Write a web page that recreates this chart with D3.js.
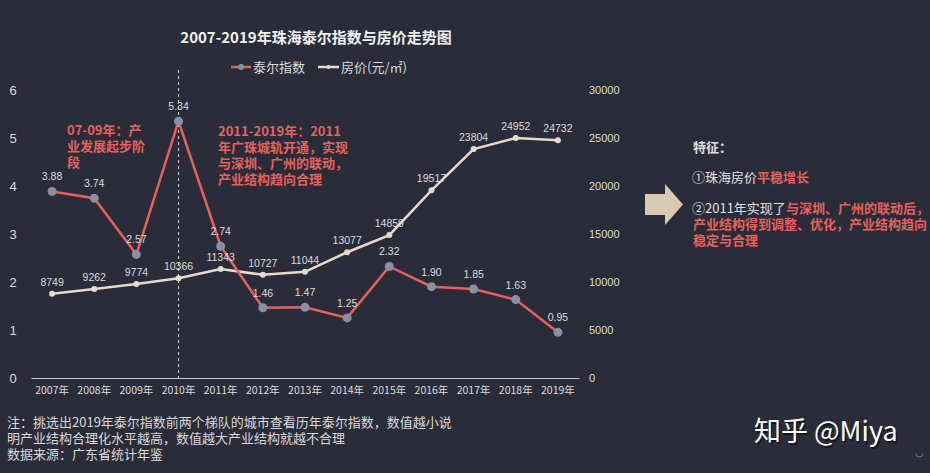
<!DOCTYPE html>
<html><head><meta charset="utf-8">
<script src="https://cdn.jsdelivr.net/npm/d3@7/dist/d3.min.js"></script>
<style>
html,body{margin:0;padding:0;background:#2a2c39;}
svg{display:block;}
text{font-family:"Liberation Sans","Noto Sans CJK SC",sans-serif;}
.cjk{font-family:"Noto Sans CJK SC","Liberation Sans",sans-serif;}
</style></head>
<body>
<script>
const years = ["2007年","2008年","2009年","2010年","2011年","2012年","2013年","2014年","2015年","2016年","2017年","2018年","2019年"];
const theil = [3.88,3.74,2.57,5.34,2.74,1.46,1.47,1.25,2.32,1.90,1.85,1.63,0.95];
const price = [8749,9262,9774,10366,11343,10727,11044,13077,14859,19517,23804,24952,24732];
const leftTicks = [0,1,2,3,4,5,6];
const rightTicks = [0,5000,10000,15000,20000,25000,30000];

const W=930,H=473;
const svg=d3.select("body").append("svg").attr("width",W).attr("height",H);
svg.append("rect").attr("width",W).attr("height",H).attr("fill","#2a2c39");

const x=d3.scaleBand().domain(years).range([31,579]);
const cx=d=>x(d)+x.bandwidth()/2;
const yL=d3.scaleLinear().domain([0,6]).range([378,89.5]);
const yR=d3.scaleLinear().domain([0,30000]).range([378,89.5]);

const RED="#e5625c", BEIGE="#e6dccb", TXT="#dcdcdc";

// title
svg.append("text").attr("class","cjk").attr("x",316).attr("y",43).attr("text-anchor","middle")
  .attr("fill","#f0f0f0").attr("font-size",15).attr("font-weight","bold")
  .text("2007-2019年珠海泰尔指数与房价走势图");

// legend
const lg=svg.append("g");
lg.append("line").attr("x1",231).attr("x2",251).attr("y1",67).attr("y2",67).attr("stroke",RED).attr("stroke-width",2.5);
lg.append("circle").attr("cx",241).attr("cy",67).attr("r",3).attr("fill","#8a8fa6");
lg.append("text").attr("class","cjk").attr("x",253).attr("y",72).attr("fill",TXT).attr("font-size",13).text("泰尔指数");
lg.append("line").attr("x1",318).attr("x2",339).attr("y1",67).attr("y2",67).attr("stroke",BEIGE).attr("stroke-width",2.5);
lg.append("circle").attr("cx",328.5).attr("cy",67).attr("r",2).attr("fill",BEIGE);
lg.append("text").attr("class","cjk").attr("x",341).attr("y",72).attr("fill",TXT).attr("font-size",13).text("房价(元/㎡)");

// axes
const axL=svg.append("g");
axL.selectAll("text").data(leftTicks).join("text").attr("x",13).attr("y",d=>yL(d)+5)
  .attr("text-anchor","middle").attr("fill",TXT).attr("font-size",13).text(d=>d);
const axR=svg.append("g");
axR.selectAll("text").data(rightTicks).join("text").attr("x",589).attr("y",d=>yR(d)+4)
  .attr("fill",TXT).attr("font-size",11).text(d=>d);

const xAxis=svg.append("g").attr("transform","translate(0,378)")
  .call(d3.axisBottom(x).tickSize(0).tickPadding(9));
xAxis.select(".domain").attr("stroke","#c8c8cc").attr("stroke-width",1);
xAxis.selectAll("text").attr("class","cjk").attr("fill",TXT).attr("font-size",10.5);

// dashed line at 2010
svg.append("line").attr("x1",cx("2010年")).attr("x2",cx("2010年")).attr("y1",70).attr("y2",378)
  .attr("stroke","#d8d8d8").attr("stroke-width",1).attr("stroke-dasharray","3,3");

// price line
svg.append("path").datum(price).attr("fill","none").attr("stroke",BEIGE).attr("stroke-width",2.5)
  .attr("d",d3.line().x((d,i)=>cx(years[i])).y(d=>yR(d)));
svg.append("g").selectAll("circle").data(price).join("circle")
  .attr("cx",(d,i)=>cx(years[i])).attr("cy",d=>yR(d)).attr("r",3).attr("fill",BEIGE);

// theil line
svg.append("path").datum(theil).attr("fill","none").attr("stroke",RED).attr("stroke-width",2.5)
  .attr("d",d3.line().x((d,i)=>cx(years[i])).y(d=>yL(d)));
svg.append("g").selectAll("circle").data(theil).join("circle")
  .attr("cx",(d,i)=>cx(years[i])).attr("cy",d=>yL(d)).attr("r",4.5).attr("fill","#8a8fa6");

// labels
svg.append("g").selectAll("text").data(price).join("text")
  .attr("x",(d,i)=>cx(years[i])).attr("y",d=>yR(d)-8).attr("text-anchor","middle")
  .attr("fill",TXT).attr("font-size",10.5).text(d=>d);
svg.append("g").selectAll("text").data(theil).join("text")
  .attr("x",(d,i)=>cx(years[i])).attr("y",d=>yL(d)-11).attr("text-anchor","middle")
  .attr("fill",TXT).attr("font-size",10.5).text(d=>d.toFixed(2));

// annotations
function lines(xp,y0,dy,arr,color,size,weight){
  const t=svg.append("text").attr("class","cjk").attr("fill",color).attr("font-size",size).attr("font-weight",weight);
  arr.forEach((s,i)=>t.append("tspan").attr("x",xp).attr("y",y0+i*dy).text(s));
  return t;
}
lines(67,135,16,["07-09年：产","业发展起步阶","段"],RED,13,"bold");
lines(218,136,16,["2011-2019年：2011","年广珠城轨开通，实现","与深圳、广州的联动，","产业结构趋向合理"],RED,13,"bold");

// right panel
svg.append("path").attr("d","M645,194 L665,194 L665,184 L683,204.5 L665,225 L665,215 L645,215 Z").attr("fill","#d9c9b2");
svg.append("text").attr("class","cjk").attr("x",693).attr("y",152).attr("fill","#e0e0e0").attr("font-size",13).attr("font-weight","bold").text("特征：");
const t1=svg.append("text").attr("class","cjk").attr("x",692).attr("y",182).attr("fill","#e0e0e0").attr("font-size",13);
t1.append("tspan").text("①珠海房价");
t1.append("tspan").attr("fill",RED).attr("font-weight","bold").text("平稳增长");
const t2=svg.append("text").attr("class","cjk").attr("fill","#e0e0e0").attr("font-size",13);
t2.append("tspan").attr("x",692).attr("y",213).text("②2011年实现了");
t2.append("tspan").attr("fill",RED).attr("font-weight","bold").text("与深圳、广州的联动后，");
t2.append("tspan").attr("x",693).attr("y",229).attr("fill",RED).attr("font-weight","bold").text("产业结构得到调整、优化，产业结构趋向");
t2.append("tspan").attr("x",693).attr("y",245).attr("fill",RED).attr("font-weight","bold").text("稳定与合理");

// footnotes
lines(7,427,16,["注：挑选出2019年泰尔指数前两个梯队的城市查看历年泰尔指数，数值越小说","明产业结构合理化水平越高，数值越大产业结构就越不合理","数据来源：广东省统计年鉴"],"#dadada",13,"normal");

// watermark
svg.append("text").attr("class","cjk").attr("x",754).attr("y",441).attr("fill","#000").attr("opacity",0.5).attr("font-size",27).attr("transform","translate(1.5,1.5)").text("知乎 @Miya");
svg.append("text").attr("class","cjk").attr("x",754).attr("y",441).attr("fill","#ffffff").attr("font-size",27).text("知乎 @Miya");
svg.append("text").attr("x",915).attr("y",456).attr("fill","#9a9aa0").attr("font-size",10).text("◡");
</script>
</body></html>
